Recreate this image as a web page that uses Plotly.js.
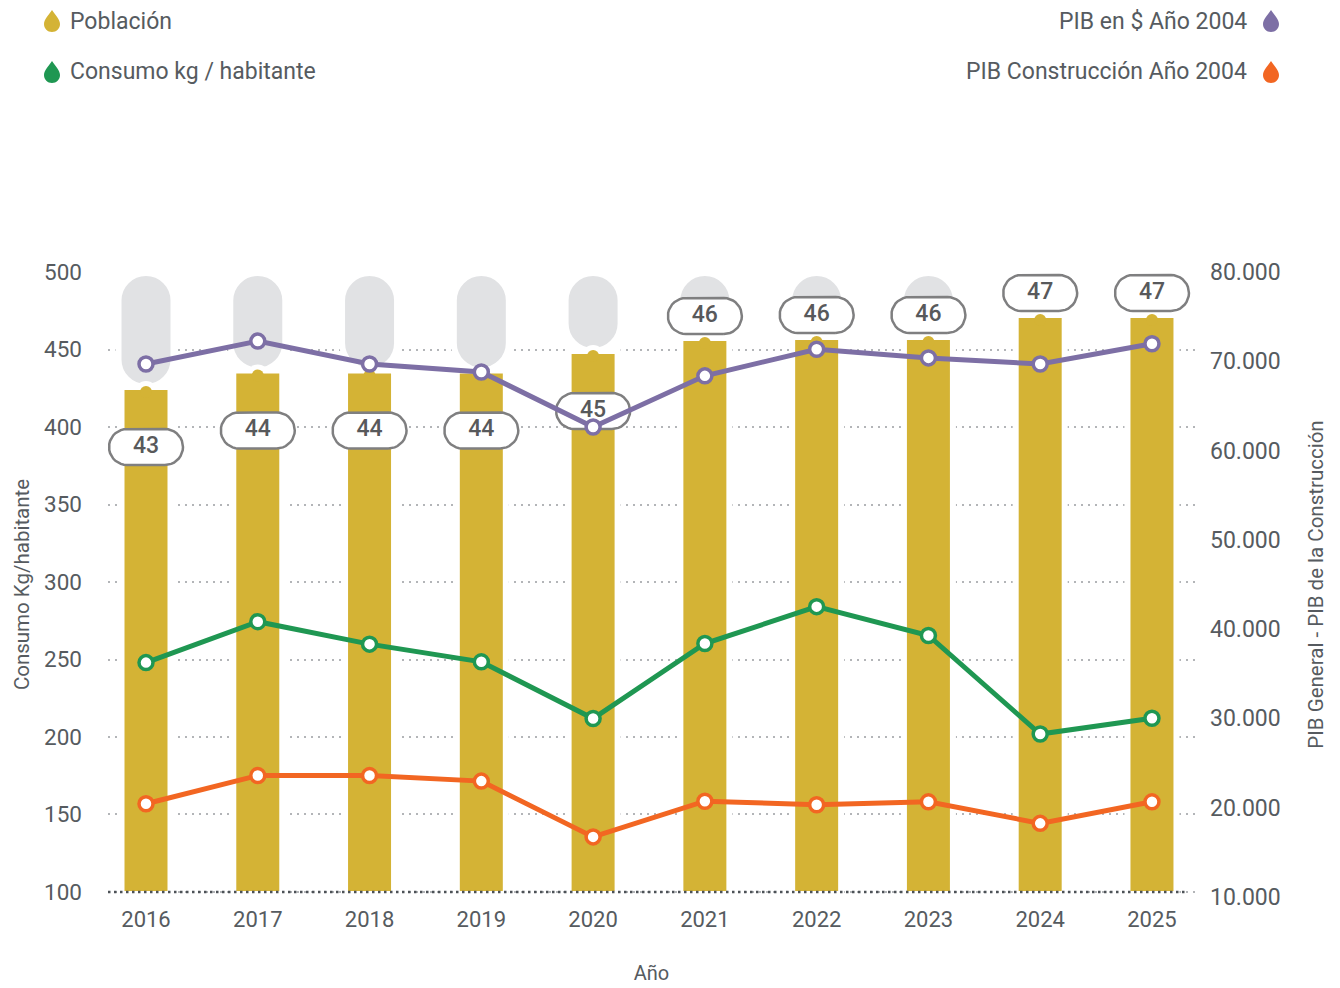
<!DOCTYPE html>
<html>
<head>
<meta charset="utf-8">
<script src="https://cdn.plot.ly/plotly-3.0.1.min.js"></script>
<style>
  html, body { margin: 0; padding: 0; background: #ffffff; }
  #chart { width: 1340px; height: 988px; }
</style>
</head>
<body>
<div id="chart"></div>
<script>
// ---------------- DATA ----------------
const years = [2016, 2017, 2018, 2019, 2020, 2021, 2022, 2023, 2024, 2025];
const yearLabels = ['2016', '2017', '2018', '2019', '2020', '2021', '2022', '2023', '2024', '2025'];
// Población (millones) - bar heights
const poblacion = [43.0, 43.92, 43.92, 43.92, 45.0, 45.72, 45.78, 45.78, 47.0, 47.0];
// where the value label sits relative to the bar top
const labelPos = ['below', 'below', 'below', 'below', 'below', 'above', 'above', 'above', 'above', 'above'];
// Consumo kg / habitante (left axis)
const consumo = [248.0, 274.4, 259.9, 248.5, 211.9, 260.3, 284.1, 265.5, 201.9, 212.1];
// PIB en $ Año 2004 (right axis)
const pibGeneral = [69690, 72260, 69690, 68800, 62640, 68370, 71350, 70380, 69690, 71960];
// PIB Construcción Año 2004 (right axis)
const pibConstruccion = [20440, 23600, 23600, 22980, 16730, 20730, 20330, 20660, 18250, 20660];

const leftTicks = [100, 150, 200, 250, 300, 350, 400, 450, 500];
const rightTicks = [10000, 20000, 30000, 40000, 50000, 60000, 70000, 80000];

// ---------------- STYLE / LAYOUT CONSTANTS ----------------
const FONT = 'Roboto, "Open Sans", "DejaVu Sans", sans-serif';
const TXT = '#565b60';
const C_YELLOW = '#d4b335';
const C_GRAY = '#e1e2e4';
const C_PURPLE = '#7d6fa5';
const C_GREEN = '#1f9752';
const C_ORANGE = '#f26622';

const W = 1340, H = 988;
const M = { l: 108, r: 145, t: 272, b: 91 };
const plotW = W - M.l - M.r;
const plotH = H - M.t - M.b;
const xRange = [2015.66, 2025.385];
const popRange = [14.667, 49.389];        // hidden population axis
const leftRange = [96.77, 500];
const rightRange = [10000, 80000];
const popBase = 14.833;                    // bars start on the baseline
const grayTop = 49.33;                     // top of grey "thermometer"
const baselineEnd = (1187 - M.l) / plotW;  // dotted baseline right end (paper)

const pxX = plotW / (xRange[1] - xRange[0]);       // px per year
const pxP = plotH / (popRange[1] - popRange[0]);   // px per population unit

// ---------------- TRACES ----------------
const traces = [];

// grey background bars (main hidden axis y)
traces.push({
  type: 'bar', x: years, y: poblacion.map(p => grayTop - p), base: poblacion,
  xaxis: 'x', yaxis: 'y', width: 55 / pxX,
  marker: { color: C_GRAY, line: { color: '#ffffff', width: 6 }, cornerradius: '50%' },
  hoverinfo: 'skip', showlegend: false
});
// white notch circles
traces.push({
  type: 'scatter', mode: 'markers', x: years, y: poblacion.map(p => p - 5 / pxP),
  xaxis: 'x', yaxis: 'y',
  marker: { size: 22, color: '#ffffff', line: { width: 0 } },
  hoverinfo: 'skip', showlegend: false
});

// yellow population bars (y2)
traces.push({
  type: 'bar', x: years, y: poblacion.map(p => p - popBase), base: popBase,
  xaxis: 'x', yaxis: 'y2', width: 49 / pxX, name: 'Población',
  marker: { color: C_YELLOW, line: { color: '#ffffff', width: 6 } },
  hoverinfo: 'skip', showlegend: false
});
// yellow bumps
traces.push({
  type: 'scatter', mode: 'markers', x: years, y: poblacion.map(p => p - 5 / pxP),
  xaxis: 'x', yaxis: 'y2',
  marker: { size: 12, color: C_YELLOW, line: { width: 0 } },
  hoverinfo: 'skip', showlegend: false
});

// pill labels
const labelY = poblacion.map((p, i) => labelPos[i] === 'below' ? p - 60 / pxP : p + 22 / pxP);
const pillX = [], pillY = [];
const hw = 37, hh = 18, r = 18;
years.forEach((yr, i) => {
  const cy = labelY[i];
  const pts = [];
  for (let a = -90; a <= 90; a += 10) {           // right cap
    const t = a * Math.PI / 180;
    pts.push([hw - r + r * Math.cos(t), r * Math.sin(t)]);
  }
  for (let a = 90; a <= 270; a += 10) {           // left cap
    const t = a * Math.PI / 180;
    pts.push([-(hw - r) + r * Math.cos(t), r * Math.sin(t)]);
  }
  pts.push(pts[0]);
  pts.forEach(([dx, dy]) => { pillX.push(yr + dx / pxX); pillY.push(cy + dy / pxP); });
  pillX.push(null); pillY.push(null);
});
traces.push({
  type: 'scatter', mode: 'lines', x: pillX, y: pillY, xaxis: 'x', yaxis: 'y2',
  fill: 'toself', fillcolor: '#ffffff', line: { color: '#7f7f80', width: 2.5 },
  hoverinfo: 'skip', showlegend: false
});
traces.push({
  type: 'scatter', mode: 'text', x: years, y: labelY, xaxis: 'x', yaxis: 'y2',
  text: poblacion.map(p => String(Math.round(p))),
  textposition: 'middle center',
  textfont: { family: FONT, size: 23, color: '#58595b', weight: 500 },
  hoverinfo: 'skip', showlegend: false
});

// lines
const lineStyle = (c) => ({ color: c, width: 5 });
const markStyle = (c) => ({ size: 14, color: '#ffffff', line: { color: c, width: 3.5 } });
traces.push({
  type: 'scatter', mode: 'lines+markers', name: 'PIB Construcción Año 2004',
  x: years, y: pibConstruccion, xaxis: 'x', yaxis: 'y4',
  line: lineStyle(C_ORANGE), marker: markStyle(C_ORANGE), showlegend: false
});
traces.push({
  type: 'scatter', mode: 'lines+markers', name: 'Consumo kg / habitante',
  x: years, y: consumo, xaxis: 'x', yaxis: 'y3',
  line: lineStyle(C_GREEN), marker: markStyle(C_GREEN), showlegend: false
});
traces.push({
  type: 'scatter', mode: 'lines+markers', name: 'PIB en $ Año 2004',
  x: years, y: pibGeneral, xaxis: 'x', yaxis: 'y4',
  line: lineStyle(C_PURPLE), marker: markStyle(C_PURPLE), showlegend: false
});

// ---------------- LEGEND (custom) ----------------
const dropPath = 'M 0 11 C 3 6 8 2 8 -3 C 8 -7.5 4.4 -11 0 -11 C -4.4 -11 -8 -7.5 -8 -3 C -8 2 -3 6 0 11 Z';
const legendItems = [
  { text: 'Población', color: C_YELLOW, px: 52, py: 21, side: 'left' },
  { text: 'Consumo kg / habitante', color: C_GREEN, px: 52, py: 72, side: 'left' },
  { text: 'PIB en $ Año 2004', color: C_PURPLE, px: 1271, py: 21, side: 'right' },
  { text: 'PIB Construcción Año 2004', color: C_ORANGE, px: 1271, py: 72, side: 'right' }
];
const toPaperX = px => (px - M.l) / plotW;
const toPaperY = py => (H - M.b - py) / plotH;
const shapes = [];
const annotations = [];
legendItems.forEach(it => {
  shapes.push({
    type: 'path', xref: 'paper', yref: 'paper', xsizemode: 'pixel', ysizemode: 'pixel',
    xanchor: toPaperX(it.px), yanchor: toPaperY(it.py), path: dropPath,
    fillcolor: it.color, line: { width: 0 }, layer: 'above'
  });
  annotations.push({
    xref: 'paper', yref: 'paper',
    x: it.side === 'left' ? toPaperX(it.px + 16) : toPaperX(it.px - 22),
    y: toPaperY(it.py), xanchor: it.side === 'left' ? 'left' : 'right', yanchor: 'middle',
    text: it.text, showarrow: false, font: { family: FONT, size: 23, color: TXT }
  });
});
// dark dotted baseline
shapes.push({
  type: 'line', xref: 'paper', yref: 'y3', x0: 0, x1: baselineEnd, y0: 100, y1: 100,
  line: { color: '#4d5257', width: 2.5, dash: '2.5px,3.5px' }, layer: 'above'
});

// ---------------- LAYOUT ----------------
const layout = {
  width: W, height: H,
  margin: M,
  paper_bgcolor: '#ffffff', plot_bgcolor: '#ffffff',
  font: { family: FONT, color: TXT, size: 22 },
  separators: ',.',
  showlegend: false,
  barmode: 'overlay',
  hovermode: false,
  xaxis: {
    range: xRange, tickmode: 'array', tickvals: years, ticktext: yearLabels,
    showgrid: false, zeroline: false, showline: false, ticks: '',
    tickfont: { family: FONT, size: 22, color: TXT },
    ticklabelstandoff: 7,
    title: { text: 'Año', font: { family: FONT, size: 20, color: TXT }, standoff: 34 }
  },
  yaxis: { range: popRange, visible: false, fixedrange: true },
  yaxis2: { range: popRange, overlaying: 'y', visible: false },
  yaxis3: {
    range: leftRange, overlaying: 'y', side: 'left', anchor: 'x',
    tickmode: 'array', tickvals: leftTicks, ticktext: leftTicks.map(String),
    showgrid: true, gridcolor: '#b3b5b8', gridwidth: 2, griddash: '2px,5px',
    zeroline: false, showline: false, ticks: '',
    tickfont: { family: FONT, size: 22.5, color: TXT },
    ticklabelstandoff: 25,
    title: { text: 'Consumo Kg/habitante', font: { family: FONT, size: 20.5, color: TXT }, standoff: 8 }
  },
  yaxis4: {
    range: rightRange, overlaying: 'y', side: 'right', anchor: 'x',
    tickmode: 'array', tickvals: rightTicks, tickformat: ',d',
    showgrid: false, zeroline: false, showline: false, ticks: '',
    tickfont: { family: FONT, size: 23, color: TXT },
    ticklabelstandoff: 14,
    title: { text: 'PIB General - PIB de la Construcción', font: { family: FONT, size: 20.5, color: TXT }, standoff: 28 }
  },
  shapes: shapes,
  annotations: annotations
};

Plotly.newPlot('chart', traces, layout, { displayModeBar: false, staticPlot: true });
</script>
</body>
</html>
